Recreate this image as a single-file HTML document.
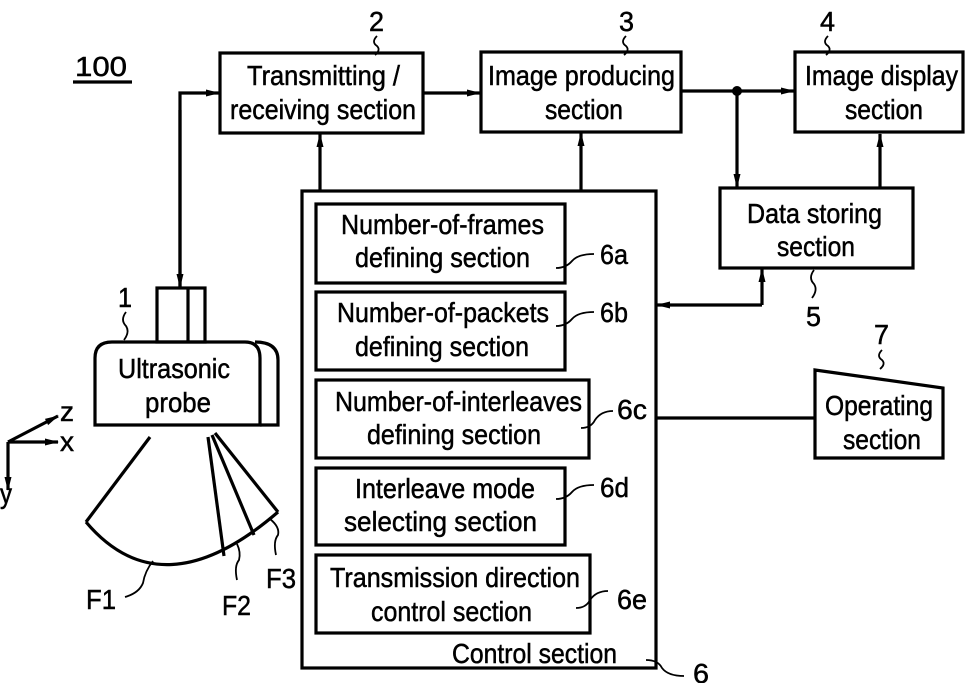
<!DOCTYPE html>
<html><head><meta charset="utf-8"><style>
html,body{margin:0;padding:0;background:#fff}
svg{display:block}
text{font-family:"Liberation Sans",sans-serif;font-size:28px;fill:#000;stroke:#000;stroke-width:0.5}
</style></head><body>
<svg width="967" height="683" viewBox="0 0 967 683" xmlns="http://www.w3.org/2000/svg">
<defs>
<marker id="a" markerWidth="14" markerHeight="10" refX="13" refY="5" orient="auto" markerUnits="userSpaceOnUse">
<path d="M0,1.5 L14,5 L0,8.5 Z" fill="#000"/></marker>
</defs>
<g fill="none" stroke="#000" stroke-width="3.2">
<rect x="220" y="53" width="203" height="80"/>
<rect x="481" y="52" width="200" height="80"/>
<rect x="795" y="52" width="168" height="80"/>
<rect x="720" y="188" width="193" height="80"/>
<rect x="302" y="191" width="354" height="477"/>
<rect x="316" y="204" width="249" height="79"/>
<rect x="316" y="292" width="249" height="78"/>
<rect x="316" y="380" width="273" height="78"/>
<rect x="316" y="468" width="249" height="77"/>
<rect x="316" y="555" width="274" height="78"/>
<path d="M815,370 L943,388 L943,458 L815,458 Z"/>
<rect x="157" y="288" width="48" height="54"/>
<line x1="188" y1="288" x2="188" y2="342"/>
<path d="M255,342 Q278,342 278,360 L278,425 L260,425"/>
<path d="M112,342 L245,342 Q260,342 260,358 L260,425 L95,425 L95,358 Q95,342 112,342 Z"/>
<path d="M180,288 L180,93 L219,93" marker-end="url(#a)"/>
<line x1="180" y1="110" x2="180" y2="287" marker-end="url(#a)"/>
<line x1="423" y1="93" x2="480" y2="93" marker-end="url(#a)"/>
<line x1="681" y1="91" x2="794" y2="91" marker-end="url(#a)"/>
<line x1="737" y1="91" x2="737" y2="187" marker-end="url(#a)"/>
<line x1="880" y1="188" x2="880" y2="134" marker-end="url(#a)"/>
<line x1="320" y1="191" x2="320" y2="134" marker-end="url(#a)"/>
<line x1="581" y1="191" x2="581" y2="133" marker-end="url(#a)"/>
<path d="M762,305 L657,305" marker-end="url(#a)"/>
<path d="M762,305 L762,269" marker-end="url(#a)"/>
<line x1="656" y1="418" x2="815" y2="418"/>
<path d="M8,442 L58,416" marker-end="url(#a)"/>
<path d="M8,442 L58,442" marker-end="url(#a)"/>
<path d="M8,442 L8,490" marker-end="url(#a)"/>
<line x1="150" y1="437" x2="86" y2="522"/>
<line x1="208" y1="437" x2="224" y2="556"/>
<line x1="212" y1="435" x2="254" y2="535"/>
<line x1="215" y1="433" x2="278" y2="512"/>
<path d="M86,522 Q162,612 278,512"/>
<line x1="73" y1="82" x2="132" y2="82"/>
</g>
<circle cx="737" cy="91" r="5" fill="#000"/>
<g fill="none" stroke="#000" stroke-width="1.8">
<path d="M377,36 q-6,6 0,10 q4,4 -2,9"/>
<path d="M626,36 q-6,6 0,10 q4,4 -2,9"/>
<path d="M828,36 q-6,6 0,10 q4,4 -2,9"/>
<path d="M126,312 q-6,8 0,14 q4,6 -2,14"/>
<path d="M814,270 q-6,8 0,14 q4,6 -2,14"/>
<path d="M882,350 q-6,6 0,10 q4,4 -2,9"/>
<path d="M556,268 q10,0 16,-7 q6,-7 22,-7"/>
<path d="M556,326 q10,0 16,-7 q6,-7 22,-7"/>
<path d="M581,428 q10,0 14,-8 q6,-9 18,-9"/>
<path d="M556,499 q10,0 16,-7 q6,-7 22,-7"/>
<path d="M576,608 q10,0 14,-8 q6,-9 18,-9"/>
<path d="M646,660 q12,0 16,8 q6,8 22,8"/>
<path d="M125,597 q14,-4 18,-14 q2,-12 10,-22"/>
<path d="M237,580 q-3,-14 2,-20 q2,-8 -2,-16"/>
<path d="M276,555 q-3,-14 2,-20 q2,-8 -8,-16"/>
</g>
<g>
<text x="75" y="76" textLength="52" lengthAdjust="spacingAndGlyphs">100</text>
<text x="369" y="31" textLength="15" lengthAdjust="spacingAndGlyphs">2</text>
<text x="619" y="31" textLength="15" lengthAdjust="spacingAndGlyphs">3</text>
<text x="820" y="31" textLength="15" lengthAdjust="spacingAndGlyphs">4</text>
<text x="118" y="307" textLength="14" lengthAdjust="spacingAndGlyphs">1</text>
<text x="806" y="326" textLength="15" lengthAdjust="spacingAndGlyphs">5</text>
<text x="874" y="344" textLength="15" lengthAdjust="spacingAndGlyphs">7</text>
<text x="693" y="683" textLength="16" lengthAdjust="spacingAndGlyphs">6</text>
<text x="247" y="85" textLength="153" lengthAdjust="spacingAndGlyphs">Transmitting /</text>
<text x="230" y="119" textLength="186" lengthAdjust="spacingAndGlyphs">receiving section</text>
<text x="488" y="85" textLength="187" lengthAdjust="spacingAndGlyphs">Image producing</text>
<text x="545" y="119" textLength="78" lengthAdjust="spacingAndGlyphs">section</text>
<text x="805" y="85" textLength="153" lengthAdjust="spacingAndGlyphs">Image display</text>
<text x="845" y="119" textLength="78" lengthAdjust="spacingAndGlyphs">section</text>
<text x="747" y="223" textLength="135" lengthAdjust="spacingAndGlyphs">Data storing</text>
<text x="777" y="256" textLength="78" lengthAdjust="spacingAndGlyphs">section</text>
<text x="341" y="234" textLength="203" lengthAdjust="spacingAndGlyphs">Number-of-frames</text>
<text x="355" y="267" textLength="175" lengthAdjust="spacingAndGlyphs">defining section</text>
<text x="337" y="322" textLength="212" lengthAdjust="spacingAndGlyphs">Number-of-packets</text>
<text x="355" y="356" textLength="174" lengthAdjust="spacingAndGlyphs">defining section</text>
<text x="335" y="411" textLength="247" lengthAdjust="spacingAndGlyphs">Number-of-interleaves</text>
<text x="367" y="444" textLength="174" lengthAdjust="spacingAndGlyphs">defining section</text>
<text x="355" y="498" textLength="180" lengthAdjust="spacingAndGlyphs">Interleave mode</text>
<text x="344" y="531" textLength="193" lengthAdjust="spacingAndGlyphs">selecting section</text>
<text x="330" y="587" textLength="250" lengthAdjust="spacingAndGlyphs">Transmission direction</text>
<text x="371" y="621" textLength="161" lengthAdjust="spacingAndGlyphs">control section</text>
<text x="452" y="663" textLength="165" lengthAdjust="spacingAndGlyphs">Control section</text>
<text x="600" y="264" textLength="28" lengthAdjust="spacingAndGlyphs">6a</text>
<text x="600" y="322" textLength="28" lengthAdjust="spacingAndGlyphs">6b</text>
<text x="617" y="419" textLength="30" lengthAdjust="spacingAndGlyphs">6c</text>
<text x="600" y="497" textLength="29" lengthAdjust="spacingAndGlyphs">6d</text>
<text x="617" y="609" textLength="30" lengthAdjust="spacingAndGlyphs">6e</text>
<text x="825" y="415" textLength="108" lengthAdjust="spacingAndGlyphs">Operating</text>
<text x="843" y="449" textLength="78" lengthAdjust="spacingAndGlyphs">section</text>
<text x="118" y="378" textLength="112" lengthAdjust="spacingAndGlyphs">Ultrasonic</text>
<text x="145" y="412" textLength="66" lengthAdjust="spacingAndGlyphs">probe</text>
<text x="60" y="421" textLength="14" lengthAdjust="spacingAndGlyphs">z</text>
<text x="60" y="451" textLength="14" lengthAdjust="spacingAndGlyphs">x</text>
<text x="0" y="503" textLength="12" lengthAdjust="spacingAndGlyphs">y</text>
<text x="86" y="609" textLength="30" lengthAdjust="spacingAndGlyphs">F1</text>
<text x="222" y="615" textLength="29" lengthAdjust="spacingAndGlyphs">F2</text>
<text x="266" y="588" textLength="30" lengthAdjust="spacingAndGlyphs">F3</text>
</g>
</svg>
</body></html>
